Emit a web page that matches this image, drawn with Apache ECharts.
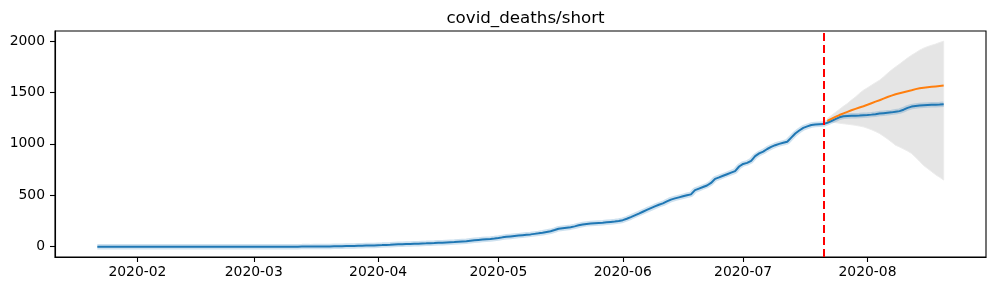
<!DOCTYPE html>
<html>
<head>
<meta charset="utf-8">
<script src="https://cdn.jsdelivr.net/npm/echarts@6/dist/echarts.min.js"></script>
<style>
html,body{margin:0;padding:0;background:#fff;}
#c{width:996px;height:290px;}
</style>
</head>
<body>
<div id="c"></div>
<script>
// ---- data ----
const titleText = 'covid_deaths/short';
const startDate = [2020, 1, 22];      // first observation (y, m, d)
const cutoffDate = [2020, 7, 21];     // forecast origin (red dashed line)
const forecastStart = [2020, 7, 22];  // first forecast day
const xTickLabels = ['2020-02', '2020-03', '2020-04', '2020-05', '2020-06', '2020-07', '2020-08'];
const yTickValues = [0, 500, 1000, 1500, 2000];

// observed cumulative deaths, daily from 2020-01-22 to 2020-08-20
const observedJanMar = [
  0,0,0,0,0,0,0,0,0,0,            // Jan 22-31
  0,0,0,0,0,0,0,0,0,0,0,0,0,0,0,0,0,0,0,0,0,0,0,0,0,0,0,0,0, // Feb
  0,0,0,0,0,0,0,0,0,0,            // Mar 1-10
  0,0,1,1,1,2,2,2,3,3,4,4,5,6,7,8,9,10,11,12,13 // Mar 11-31
];
const observedApr = [15,16,18,19,21,23,24,26,27,29,30,32,33,35,36,38,39,41,43,45,48,51,54,58,62,66,70,73,76,80];
const observedMay = [85,91,96,100,104,108,112,116,120,125,130,136,143,150,162,175,180,185,190,198,208,216,222,226,229,231,233,237,241,245,250];
const observedJun = [258,272,288,305,322,340,358,375,392,408,421,440,458,470,480,490,500,509,550,565,580,595,620,660,674,690,705,720,735,780];
const observedJul = [805,815,835,880,907,925,950,970,987,1000,1010,1020,1060,1100,1130,1155,1170,1183,1188,1190,1192,1205,1222,1240,1258,1268,1270,1272,1274,1276,1279];
const observedAug = [1281,1284,1288,1294,1298,1302,1306,1312,1318,1332,1350,1362,1368,1372,1375,1377,1379,1381,1383,1386];

// forecast, daily from 2020-07-22 to 2020-08-20
const forecastMean = [1223,1243,1262,1280,1296,1311,1326,1340,1353,1366,1380,1395,1410,1424,1440,1455,1469,1482,1492,1502,1512,1521,1532,1540,1546,1550,1554,1558,1562,1566];
const forecastUpper = [1245,1275,1305,1335,1365,1392,1425,1455,1490,1521,1545,1570,1595,1618,1650,1685,1718,1748,1775,1805,1835,1861,1885,1910,1930,1945,1958,1970,1985,1997];
const forecastLower = [1214,1210,1206,1201,1196,1191,1186,1180,1173,1165,1152,1138,1120,1101,1075,1048,1018,987,970,950,930,907,870,830,790,760,730,700,675,648];

// ---- build ----
const DAY = 86400000;
function ts(a){ return new Date(a[0], a[1]-1, a[2]).getTime(); }
const observed = [].concat(observedJanMar, observedApr, observedMay, observedJun, observedJul, observedAug);
const t0 = ts(startDate);
const tf = ts(forecastStart);
const obsData = observed.map((v,i)=>[t0 + i*DAY, v]);
const meanData = forecastMean.map((v,i)=>[tf + i*DAY, v]);
const bandData = forecastUpper.map((v,i)=>[tf + i*DAY, forecastLower[i], v]);
const tEnd = t0 + (observed.length-1)*DAY;
const span = tEnd - t0;
const xMin = t0 - span*0.05, xMax = tEnd + span*0.05;
const yLo = 0, yHi = Math.max.apply(null, forecastUpper);
const yMin = yLo - (yHi-yLo)*0.05, yMax = yHi + (yHi-yLo)*0.05;
const xTickValues = xTickLabels.map(s => { const p = s.split('-'); return new Date(+p[0], +p[1]-1, 1).getTime(); });

const font = 'DejaVu Sans';
const chart = echarts.init(document.getElementById('c'), null, {renderer:'canvas'});
chart.setOption({
  animation: false,
  backgroundColor: '#fff',
  title: {
    text: titleText, left: 520.5, textAlign: 'center', top: 5,
    textStyle: {fontFamily: font, fontSize: 16.7, fontWeight: 'normal', color: '#000'}
  },
  grid: {left: 55, right: 10, top: 31, bottom: 33, show: true, borderColor: '#000', borderWidth: 1.1, backgroundColor: 'transparent'},
  xAxis: {
    type: 'value', min: xMin, max: xMax, scale: true,
    axisLine: {show: true, onZero: false, lineStyle: {color: '#000', width: 1.1}},
    axisTick: {show: true, length: 5, customValues: xTickValues, lineStyle: {color: '#000', width: 1.1}},
    axisLabel: {
      customValues: xTickValues, margin: 8, color: '#000', fontFamily: font, fontSize: 13.9,
      formatter: function(v){
        let best = 0;
        for (let i = 1; i < xTickValues.length; i++) if (Math.abs(xTickValues[i]-v) < Math.abs(xTickValues[best]-v)) best = i;
        return xTickLabels[best];
      }
    },
    splitLine: {show: false}
  },
  yAxis: {
    type: 'value', min: yMin, max: yMax,
    axisLine: {show: true, onZero: false, lineStyle: {color: '#000', width: 1.1}},
    axisTick: {show: true, length: 5, customValues: yTickValues, lineStyle: {color: '#000', width: 1.1}},
    axisLabel: {customValues: yTickValues, margin: 10, color: '#000', fontFamily: font, fontSize: 13.9,
      formatter: function(v){ return String(Math.round(v)); }},
    splitLine: {show: false}
  },
  series: [
    {type: 'custom', name: 'interval', data: bandData, encode: {x: 0, y: [1, 2]}, silent: true, z: 1,
     renderItem: function(params, api){
       if (params.dataIndex !== 0) return null;
       const pts = [];
       for (let i = 0; i < bandData.length; i++) pts.push(api.coord([bandData[i][0], bandData[i][2]]));
       for (let i = bandData.length - 1; i >= 0; i--) pts.push(api.coord([bandData[i][0], bandData[i][1]]));
       return {type: 'polygon', shape: {points: pts}, style: {fill: '#e5e5e5', stroke: '#ececec', lineWidth: 1}};
     }},
    {type: 'line', name: 'halo', data: obsData, symbol: 'none', lineStyle: {width: 5.5, color: 'rgba(31,119,180,0.22)'}, z: 2},
    {type: 'line', name: 'observed', data: obsData, symbol: 'none', lineStyle: {width: 2, color: '#1f77b4'}, z: 3},
    {type: 'line', name: 'forecast', data: meanData, symbol: 'none', lineStyle: {width: 2, color: '#ff7f0e'}, z: 4,
     markLine: {symbol: 'none', silent: true, label: {show: false},
       lineStyle: {color: '#ff0000', type: [8, 4], width: 2},
       data: [{xAxis: ts(cutoffDate)}]}}
  ]
});
</script>
</body>
</html>
